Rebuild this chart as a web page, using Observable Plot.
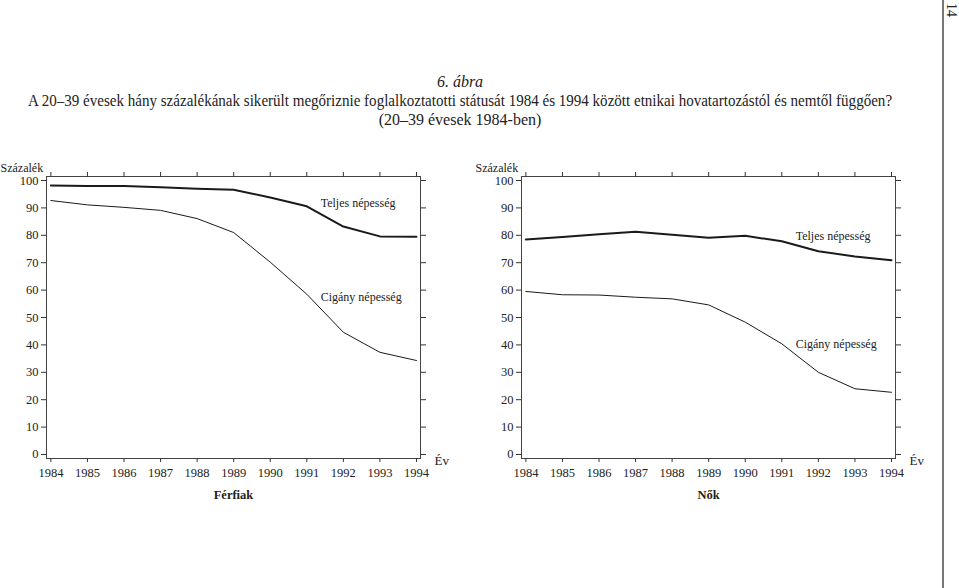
<!DOCTYPE html>
<html>
<head>
<meta charset="utf-8">
<script src="https://cdn.jsdelivr.net/npm/d3@7"></script>
<script src="https://cdn.jsdelivr.net/npm/@observablehq/plot@0.6"></script>
<style>
  html, body { margin: 0; padding: 0; background: white; }
  body { width: 959px; height: 588px; position: relative; overflow: hidden; font-family: "Liberation Serif", "DejaVu Serif", serif; color: #222; }
  #title { position: absolute; left: 0; top: 72px; width: 920px; text-align: center; font-size: 16px; line-height: 19px; }
  #title div { white-space: nowrap; }
  #title .num { font-style: italic; }
  #title .long { transform: scaleX(0.94); transform-origin: 460px 0; }
  #left { position: absolute; left: 0; top: 150px; }
  #right { position: absolute; left: 475px; top: 150px; }
  #rule { position: absolute; left: 942px; top: 0; width: 2px; height: 588px; background: #777; }
  #page { position: absolute; left: 945px; top: 3px; font-size: 14px; line-height: 13px; transform-origin: 0 0; transform: translate(13px, 0) rotate(90deg); }
</style>
</head>
<body>
<div id="title">
  <div class="num">6. ábra</div>
  <div class="long">A 20–39 évesek hány százalékának sikerült megőriznie foglalkoztatotti státusát 1984 és 1994 között etnikai hovatartozástól és nemtől függően?</div>
  <div>(20–39 évesek 1984-ben)</div>
</div>
<div id="left"></div>
<div id="right"></div>
<div id="rule"></div>
<div id="page">14</div>
<script>
const years = [1984, 1985, 1986, 1987, 1988, 1989, 1990, 1991, 1992, 1993, 1994];
const yTicks = [0, 10, 20, 30, 40, 50, 60, 70, 80, 90, 100];

// Férfiak (men)
const menTotal  = [98.2, 98.0, 98.0, 97.5, 97.0, 96.6, 93.8, 90.6, 83.2, 79.6, 79.5];
const menRoma   = [92.7, 91.1, 90.2, 89.1, 86.1, 81.0, 70.2, 58.5, 44.6, 37.3, 34.3];
// Nők (women)
const womenTotal = [78.5, 79.4, 80.4, 81.3, 80.2, 79.1, 79.8, 77.8, 74.2, 72.3, 70.9];
const womenRoma  = [59.5, 58.3, 58.2, 57.4, 56.8, 54.6, 48.3, 40.4, 30.0, 24.0, 22.7];

const seriesNames = ["Teljes népesség", "Cigány népesség"];
const menLabelYear = [1991.38, 1991.38];
const menLabelValue = [91.6, 57.4];
const womenLabelYear = [1991.38, 1991.38];
const womenLabelValue = [79.7, 40.1];

const panelTitles = ["Férfiak", "Nők"];
const yLabel = "Százalék";
const xLabel = "Év";

function panel(total, roma, labelYear, labelValue, title) {
  const data = years.map((y, i) => ({year: y, total: total[i], roma: roma[i]}));
  const labels = seriesNames.map((n, i) => ({name: n, year: labelYear[i], value: labelValue[i]}));
  return Plot.plot({
    width: 470,
    height: 360,
    marginLeft: 46,
    marginRight: 50,
    marginTop: 26,
    marginBottom: 52,
    x: {domain: [1983.88, 1994.11]},
    y: {domain: [-1.46, 101.46]},
    style: {fontFamily: "Liberation Serif", fontSize: "12.5px", color: "#333", background: "white", overflow: "visible"},
    marks: [
      Plot.frame({stroke: "#444", strokeWidth: 1}),
      Plot.axisY(yTicks, {anchor: "left", tickSize: 5, tickPadding: 3, label: null, tickFormat: d3.format("d"), fill: "#222"}),
      Plot.axisY(yTicks, {anchor: "right", tickSize: 5, label: null, tickFormat: () => ""}),
      Plot.axisX(years, {anchor: "bottom", tickSize: 4, tickPadding: 6, label: null, tickFormat: d3.format("d"), fill: "#222"}),
      Plot.axisX(years, {anchor: "top", tickSize: 5, label: null, tickFormat: () => ""}),
      Plot.line(data, {x: "year", y: "total", stroke: "#1a1a1a", strokeWidth: 2}),
      Plot.line(data, {x: "year", y: "roma", stroke: "#1a1a1a", strokeWidth: 1}),
      Plot.text(labels, {x: "year", y: "value", text: "name", textAnchor: "start", fontSize: 12, fill: "#222"}),
      Plot.text([yLabel], {frameAnchor: "top-left", dx: -46, dy: -13, textAnchor: "start", fontSize: 12, fill: "#222"}),
      Plot.text([xLabel], {frameAnchor: "bottom-right", dx: 14, dy: 6, textAnchor: "start", fontSize: 13, fill: "#222"}),
      Plot.text([title], {frameAnchor: "bottom", dy: 40, fontSize: 12.5, fontWeight: "bold", fill: "#222"})
    ]
  });
}

document.getElementById("left").appendChild(panel(menTotal, menRoma, menLabelYear, menLabelValue, panelTitles[0]));
document.getElementById("right").appendChild(panel(womenTotal, womenRoma, womenLabelYear, womenLabelValue, panelTitles[1]));
</script>
</body>
</html>
